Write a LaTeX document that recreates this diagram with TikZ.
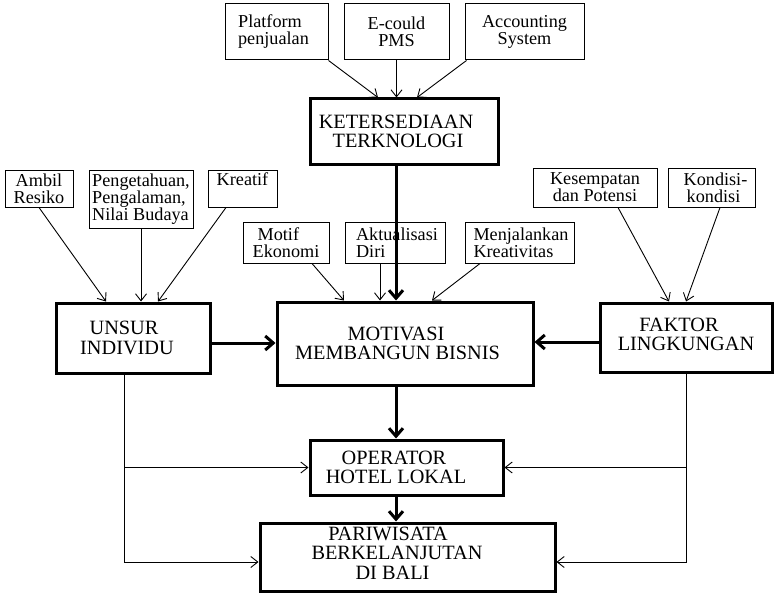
\documentclass[tikz,border=0pt]{standalone}
\usepackage{fontspec}
\setmainfont{Liberation Serif}
\usetikzlibrary{arrows.meta,calc}
\newcommand{\pad}[1]{\rule{#1}{0pt}}
\begin{document}
\begin{tikzpicture}[x=1pt,y=-1pt,
 sbox/.style={draw, line width=1pt, inner sep=0pt, font=\fontsize{18.2}{17}\selectfont},
 bbox/.style={draw, line width=3pt, inner sep=0pt, align=center, font=\fontsize{20.3}{19.5}\selectfont},
 thinarr/.style={line width=0.9pt, -{Straight Barb[length=7pt,width=11pt]}},
 thickarr/.style={line width=3pt, -{Straight Barb[length=8pt,width=14pt]}},
]
\path[use as bounding box, fill=white] (0,0) rectangle (775,596);

% top group
\node[sbox, minimum width=103pt, minimum height=56pt, align=left] (plat) at (276.5,32) {Platform\\penjualan\pad{6pt}};
\node[sbox, minimum width=105pt, minimum height=56pt, align=center] (pms) at (396.5,32) {E-could\\PMS};
\node[sbox, minimum width=119pt, minimum height=56pt, align=center] (acc) at (524.5,32) {Accounting\\System};
\node[bbox, minimum width=188pt, minimum height=65pt] (tek) at (404,131.5) {KETERSEDIAAN\pad{16pt}\\TERKNOLOGI\pad{12pt}};

% left group
\node[sbox, minimum width=68pt, minimum height=37pt, align=center] (ambil) at (39,188.5) {Ambil\\Resiko};
\node[sbox, minimum width=104pt, minimum height=58pt, align=left] (peng) at (141,199) {Pengetahuan,\\Pengalaman,\\Nilai Budaya};
\node[sbox, minimum width=69pt, minimum height=37pt, align=center] (kreatif) at (242.5,188.5) {Kreatif\rule[-19.5pt]{0pt}{19.5pt}};
\node[bbox, minimum width=154pt, minimum height=70pt] (unsur) at (133,338) {UNSUR\pad{18pt}\\INDIVIDU\pad{12pt}};

% middle group
\node[sbox, minimum width=86pt, minimum height=41pt, align=left] (motif) at (286,242.5) {\pad{5pt}Motif\\Ekonomi};
\node[sbox, minimum width=100pt, minimum height=41pt, align=left] (aktual) at (395,242.5) {\pad{4pt}Aktualisasi\\\pad{4pt}Diri};
\node[sbox, minimum width=109pt, minimum height=41pt, align=left] (menj) at (519.5,242.5) {\pad{3pt}Menjalankan\\\pad{3pt}Kreativitas};
\node[bbox, minimum width=256pt, minimum height=83pt] (motiv) at (405,343.5) {MOTIVASI\pad{18pt}\\MEMBANGUN BISNIS\pad{15pt}};

% right group
\node[sbox, minimum width=124pt, minimum height=39pt, align=center] (kesem) at (595,187.5) {Kesempatan\\dan Potensi};
\node[sbox, minimum width=87pt, minimum height=39pt, align=center] (kond) at (711.5,187.5) {\pad{8pt}Kondisi-\\\pad{4pt}kondisi};
\node[bbox, minimum width=172pt, minimum height=69pt] (faktor) at (686,337.5) {FAKTOR\pad{14pt}\\LINGKUNGAN\rule[-6pt]{0pt}{6pt}};

% bottom
\node[bbox, minimum width=193pt, minimum height=55pt] (oper) at (406.5,467.5) {OPERATOR\pad{25pt}\\HOTEL LOKAL\pad{21pt}};
\node[bbox, minimum width=295pt, minimum height=68pt] (pari) at (407.5,557) {PARIWISATA\pad{39pt}\\BERKELANJUTAN\pad{21pt}\\DI BALI\pad{30pt}\rule[-8pt]{0pt}{8pt}};

% thin input arrows
\draw[thinarr] (plat.south east) -- ($(tek.north)+(-26,0)$);
\draw[thinarr] (pms.south) -- (pms.south |- tek.north);
\draw[thinarr] ($(acc.south west)+(2,0)$) -- ($(tek.north)+(13,0)$);
\draw[thinarr] (ambil.south) -- ($(unsur.north)+(-27,0)$);
\draw[thinarr] (peng.south) -- (peng.south |- unsur.north);
\draw[thinarr] ($(kreatif.south)+(-16.5,0)$) -- ($(unsur.north)+(25,0)$);
\draw[thinarr] ($(motif.south)+(26,0)$) -- ($(motiv.north)+(-61,0)$);
\draw[thinarr] ($(aktual.south)+(-15,0)$) -- ($(motiv.north)+(-25,0)$);
\draw[thinarr] ($(menj.south)+(-39.5,0)$) -- ($(motiv.north)+(27,0)$);
\draw[thinarr] ($(kesem.south)+(23,0)$) -- ($(faktor.north)+(-17,0)$);
\draw[thinarr] ($(kond.south)+(8.5,0)$) -- (faktor.north);

% thick arrows
\draw[thickarr] ($(tek.south)+(-8,0)$) -- ($(motiv.north)+(-9,0)$);
\draw[thickarr] ($(unsur.east)+(0,5)$) -- ($(motiv.west)+(0,-0.5)$);
\draw[thickarr] ($(faktor.west)+(0,4.5)$) -- ($(motiv.east)+(0,-1.5)$);
\draw[thickarr] ($(motiv.south)+(-9,0)$) -- ($(oper.north)+(-10.5,0)$);
\draw[thickarr] ($(oper.south)+(-10.5,0)$) -- ($(pari.north)+(-11.5,0)$);

% feedback lines
\coordinate (ul) at ($(unsur.south)+(-9,0)$);
\coordinate (pl) at ($(pari.west)+(0,5)$);
\coordinate (pr) at ($(pari.east)+(0,5)$);
\draw[thinarr] (ul) |- (pl);
\draw[thinarr] (ul |- oper.west) -- (oper.west);
\draw[thinarr] (faktor.south) |- (pr);
\draw[thinarr] (faktor.south |- oper.east) -- (oper.east);
\end{tikzpicture}
\end{document}
